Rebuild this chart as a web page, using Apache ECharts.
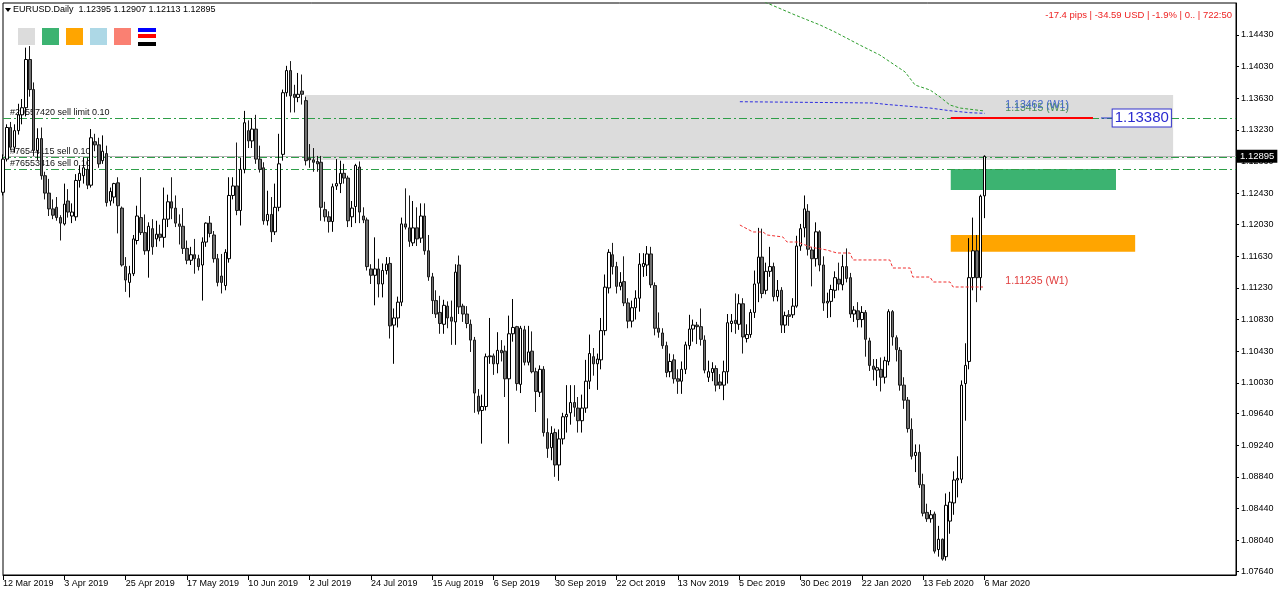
<!DOCTYPE html>
<html><head><meta charset="utf-8">
<script src="https://cdn.jsdelivr.net/npm/echarts@6/dist/echarts.min.js"></script>
<style>html,body{margin:0;padding:0;background:#fff}#c{width:1280px;height:595px}</style>
</head><body><div id="c"></div>
<script>
// ---- tick labels ----
const dateTickLabels = ['12 Mar 2019','3 Apr 2019','25 Apr 2019','17 May 2019','10 Jun 2019','2 Jul 2019','24 Jul 2019','15 Aug 2019','6 Sep 2019','30 Sep 2019','22 Oct 2019','13 Nov 2019','5 Dec 2019','30 Dec 2019','22 Jan 2020','13 Feb 2020','6 Mar 2020'];
const barsPerDateTick = 16;
const priceTickLabels = ['1.14430','1.14030','1.13630','1.13230','1.12830','1.12430','1.12030','1.11630','1.11230','1.10830','1.10430','1.10030','1.09640','1.09240','1.08840','1.08440','1.08040','1.07640'];

// ---- daily candles (bar index 0 = 12 Mar 2019) ----
const opens = [
1.1244,1.1286,1.1326,1.1301,1.1322,1.1342,1.1351,1.1412,1.1374,1.1297,
1.1312,1.1265,1.1243,1.1223,1.1225,1.1212,1.1204,1.1233,1.1214,1.1213,
1.1259,1.1265,1.1273,1.1253,1.1308,1.1304,1.1284,1.1293,1.1233,1.1238,
1.1256,1.1224,1.1150,1.1130,1.1141,1.1183,1.1212,1.1193,1.1170,1.1198,
1.1185,1.1191,1.1187,1.1210,1.1232,1.1224,1.1204,1.1201,1.1173,1.1158,
1.1165,1.1160,1.1152,1.1181,1.1205,1.1190,1.1160,1.1138,1.1126,1.1160,
1.1240,1.1252,1.1221,1.1273,1.1322,1.1309,1.1324,1.1286,1.1275,1.1208,
1.1216,1.1194,1.1225,1.1292,1.1370,1.1398,1.1368,1.1364,1.1372,1.1360,
1.1287,1.1285,1.1283,1.1282,1.1222,1.1213,1.1207,1.1252,1.1255,1.1268,
1.1262,1.1213,1.1226,1.1276,1.1214,1.1209,1.1147,1.1139,1.1147,1.1128,
1.1145,1.1154,1.1076,1.1085,1.1105,1.1204,1.1199,1.1180,1.1199,1.1186,
1.1214,1.1170,1.1137,1.1107,1.1092,1.1077,1.1100,1.1086,1.1080,1.1152,
1.1100,1.1090,1.1077,1.1057,1.0986,1.0968,1.0973,1.1036,1.1037,1.1027,
1.1044,1.1043,1.1008,1.1065,1.1074,1.1001,1.1070,1.1029,1.1043,1.1017,
1.0991,1.1020,1.0940,1.0921,1.0940,1.0899,1.0932,1.0960,1.0965,1.0978,
1.0971,1.0955,1.0971,1.1005,1.1036,1.1027,1.1032,1.1069,1.1123,1.1165,
1.1150,1.1125,1.1131,1.1104,1.1081,1.1098,1.1110,1.1150,1.1152,1.1166,
1.1126,1.1072,1.1066,1.1050,1.1017,1.1032,1.1008,1.1005,1.1020,1.1050,
1.1071,1.1076,1.1074,1.1057,1.1010,1.1016,1.1021,1.1004,1.1000,1.1017,
1.1078,1.1082,1.1077,1.1103,1.1059,1.1064,1.1092,1.1129,1.1162,1.1120,
1.1144,1.1150,1.1112,1.1120,1.1076,1.1089,1.1089,1.1100,1.1176,1.1199,
1.1220,1.1171,1.1160,1.1194,1.1152,1.1104,1.1106,1.1120,1.1134,1.1127,
1.1150,1.1136,1.1090,1.1094,1.1083,1.1092,1.1056,1.1024,1.1019,1.1020,
1.1010,1.1030,1.1093,1.1060,1.1044,1.1000,1.0981,1.0944,1.0911,1.0915,
1.0874,1.0839,1.0831,1.0837,1.0792,1.0805,1.0783,1.0828,1.0851,1.0880,
1.0881,1.1002,1.1030,1.1136,1.1170,1.1136,1.12395];
const highs = [
1.1292,1.1330,1.1333,1.1330,1.1356,1.1362,1.1427,1.1429,1.1383,1.1325,
1.1326,1.1270,1.1261,1.1235,1.1238,1.1215,1.1255,1.1248,1.1230,1.1267,
1.1278,1.1288,1.1288,1.1324,1.1318,1.1313,1.1316,1.1303,1.1250,1.1256,
1.1263,1.1226,1.1162,1.1151,1.1190,1.1227,1.1263,1.1216,1.1206,1.1210,
1.1208,1.1203,1.1250,1.1241,1.1263,1.1240,1.1216,1.1224,1.1183,1.1175,
1.1185,1.1165,1.1187,1.1206,1.1214,1.1195,1.1166,1.1166,1.1172,1.1263,
1.1263,1.1307,1.1288,1.1347,1.1335,1.1338,1.1342,1.1303,1.1282,1.1246,
1.1238,1.1255,1.1318,1.1374,1.1404,1.1410,1.1380,1.1395,1.1393,1.1365,
1.1305,1.1300,1.1290,1.1290,1.1232,1.1220,1.1255,1.1286,1.1284,1.1280,
1.1265,1.1233,1.1280,1.1283,1.1225,1.1212,1.1153,1.1187,1.1160,1.1154,
1.1162,1.1162,1.1097,1.1112,1.1212,1.1249,1.1240,1.1233,1.1225,1.1230,
1.1230,1.1190,1.1142,1.1120,1.1113,1.1108,1.1106,1.1107,1.1153,1.1164,
1.1103,1.1100,1.1083,1.1061,1.0995,1.0988,1.1040,1.1085,1.1040,1.1067,
1.1057,1.1050,1.1088,1.1109,1.1075,1.1075,1.1075,1.1075,1.1068,1.1022,
1.1025,1.1024,1.0958,1.0948,1.0945,1.0944,1.0965,1.1000,1.1000,1.1000,
1.0985,1.0988,1.1032,1.1064,1.1047,1.1040,1.1085,1.1140,1.1172,1.1180,
1.1156,1.1143,1.1163,1.1110,1.1107,1.1120,1.1167,1.1167,1.1176,1.1175,
1.1130,1.1092,1.1072,1.1055,1.1040,1.1039,1.1020,1.1030,1.1055,1.1089,
1.1083,1.1080,1.1097,1.1063,1.1031,1.1029,1.1025,1.1014,1.1031,1.1090,
1.1090,1.1116,1.1115,1.1110,1.1077,1.1096,1.1145,1.1199,1.1198,1.1155,
1.1175,1.1155,1.1133,1.1124,1.1093,1.1095,1.1110,1.1189,1.1204,1.1240,
1.1229,1.1175,1.1206,1.1196,1.1163,1.1117,1.1127,1.1144,1.1155,1.1165,
1.1173,1.1142,1.1100,1.1105,1.1100,1.1095,1.1060,1.1033,1.1033,1.1035,
1.1036,1.1096,1.1095,1.1063,1.1048,1.1010,1.0985,1.0958,1.0925,1.0925,
1.0888,1.0850,1.0842,1.0840,1.0822,1.0806,1.0863,1.0865,1.0891,1.0910,
1.1006,1.1053,1.1186,1.1212,1.1190,1.1241,1.12907];
const lows = [
1.1240,1.1283,1.1297,1.1294,1.1317,1.1330,1.1340,1.1365,1.1290,1.1285,
1.1260,1.1235,1.1214,1.1210,1.1208,1.1183,1.1202,1.1212,1.1205,1.1208,
1.1250,1.1255,1.1248,1.1250,1.1296,1.1275,1.1280,1.1226,1.1227,1.1230,
1.1192,1.1150,1.1118,1.1111,1.1138,1.1178,1.1190,1.1165,1.1136,1.1165,
1.1175,1.1182,1.1174,1.1200,1.1210,1.1200,1.1178,1.1166,1.1153,1.1152,
1.1141,1.1145,1.1107,1.1175,1.1187,1.1155,1.1125,1.1116,1.1120,1.1155,
1.1235,1.1215,1.1202,1.1268,1.1300,1.1300,1.1280,1.1269,1.1203,1.1202,
1.1181,1.1190,1.1220,1.1284,1.1365,1.1345,1.1345,1.1358,1.1355,1.1278,
1.1275,1.1270,1.1270,1.1208,1.1207,1.1193,1.1194,1.1247,1.1243,1.1255,
1.1200,1.1200,1.1205,1.1205,1.1205,1.1145,1.1128,1.1101,1.1111,1.1111,
1.1140,1.1059,1.1027,1.1073,1.1100,1.1197,1.1175,1.1176,1.1176,1.1180,
1.1165,1.1132,1.1090,1.1085,1.1065,1.1065,1.1072,1.1051,1.1051,1.1090,
1.1080,1.1072,1.1042,1.0965,1.0963,1.0926,1.0968,1.1027,1.1013,1.1015,
1.1030,1.0985,1.0926,1.1055,1.0993,1.0990,1.1025,1.1025,1.1015,1.0966,
1.0985,1.0935,1.0908,1.0905,1.0884,1.0879,1.0925,1.0940,1.0950,1.0960,
1.0940,1.0940,1.0965,1.0995,1.1012,1.0994,1.1020,1.1063,1.1116,1.1140,
1.1116,1.1120,1.1100,1.1072,1.1073,1.1083,1.1093,1.1137,1.1138,1.1123,
1.1063,1.1060,1.1046,1.1010,1.1010,1.1002,1.0989,1.0989,1.1014,1.1045,
1.1055,1.1052,1.1050,1.1015,1.1004,1.1005,1.0992,1.0995,1.0981,1.1002,
1.1067,1.1065,1.1070,1.1040,1.1054,1.1060,1.1085,1.1105,1.1110,1.1115,
1.1137,1.1106,1.1106,1.1066,1.1066,1.1075,1.1085,1.1098,1.1170,1.1187,
1.1164,1.1125,1.1150,1.1144,1.1094,1.1085,1.1086,1.1110,1.1120,1.1120,
1.1130,1.1085,1.1080,1.1073,1.1073,1.1036,1.1018,1.1006,1.0999,1.0992,
1.1002,1.1025,1.1050,1.1030,1.0993,1.0970,1.0940,1.0906,1.0890,1.0870,
1.0834,1.0827,1.0826,1.0787,1.0783,1.0778,1.0778,1.0812,1.0836,1.0858,
1.0876,1.0955,1.1020,1.1120,1.1105,1.1120,1.12113];
const closes = [
1.1286,1.1326,1.1301,1.1322,1.1342,1.1351,1.1412,1.1374,1.1297,1.1312,
1.1265,1.1243,1.1223,1.1215,1.1212,1.1205,1.1229,1.1219,1.1219,1.1259,
1.1268,1.1275,1.1253,1.1313,1.1304,1.1280,1.1296,1.1231,1.1245,1.1255,
1.1227,1.1152,1.1133,1.1141,1.1185,1.1214,1.1193,1.1170,1.1201,1.1175,
1.1191,1.1187,1.1210,1.1232,1.1224,1.1205,1.1201,1.1173,1.1158,1.1165,
1.1160,1.1150,1.1181,1.1205,1.1192,1.1160,1.1130,1.1130,1.1168,1.1240,
1.1252,1.1221,1.1273,1.1332,1.1309,1.1324,1.1286,1.1273,1.1208,1.1216,
1.1194,1.1225,1.1280,1.1370,1.1398,1.1366,1.1364,1.1368,1.1368,1.1284,
1.1285,1.1282,1.1280,1.1225,1.1213,1.1207,1.1251,1.1255,1.1268,1.1262,
1.1208,1.1224,1.1278,1.1219,1.1209,1.1150,1.1139,1.1147,1.1128,1.1145,
1.1153,1.1075,1.1085,1.1105,1.1204,1.1200,1.1182,1.1199,1.1185,1.1214,
1.1170,1.1137,1.1107,1.1090,1.1078,1.1101,1.1085,1.1081,1.1143,1.1099,
1.1090,1.1078,1.1057,1.0990,1.0967,1.0973,1.1036,1.1037,1.1027,1.1044,
1.1041,1.1008,1.1065,1.1073,1.1002,1.1072,1.1029,1.1042,1.1017,1.0992,
1.1020,1.0940,1.0920,1.0939,1.0899,1.0932,1.0960,1.0963,1.0978,1.0972,
1.0955,1.0971,1.1005,1.1040,1.1027,1.1033,1.1069,1.1124,1.1168,1.1150,
1.1125,1.1130,1.1104,1.1081,1.1098,1.1110,1.1153,1.1154,1.1166,1.1127,
1.1072,1.1067,1.1050,1.1016,1.1030,1.1008,1.1005,1.1020,1.1051,1.1071,
1.1076,1.1074,1.1058,1.1019,1.1017,1.1021,1.1000,1.1000,1.1017,1.1079,
1.1081,1.1078,1.1103,1.1061,1.1064,1.1092,1.1128,1.1162,1.1116,1.1144,
1.1150,1.1112,1.1120,1.1076,1.1088,1.1087,1.1100,1.1176,1.1198,1.1223,
1.1172,1.1160,1.1194,1.1152,1.1104,1.1106,1.1121,1.1136,1.1128,1.1150,
1.1135,1.1090,1.1095,1.1083,1.1092,1.1058,1.1025,1.1020,1.1022,1.1010,
1.1031,1.1093,1.1061,1.1045,1.1000,1.0981,1.0945,1.0910,1.0915,1.0874,
1.0838,1.0831,1.0836,1.0790,1.0805,1.0780,1.0848,1.0852,1.0880,1.0882,
1.1000,1.1025,1.1136,1.1170,1.1136,1.1239,1.12895];

// ---- weekly level lines ([bar position, price]) ----
const greenW1 = [[198.7,1.14847],[206.6,1.14683],[213.1,1.14557],[217.0,1.14468],[223.5,1.14303],[228.7,1.14177],[235.3,1.13962],[237.9,1.13797],[241.8,1.13734],[244.4,1.13646],[247.0,1.13544],[249.6,1.13506],[256.1,1.13468]];
const blueW1 = [[192.2,1.13586],[226.9,1.13570],[230.6,1.13551],[241.8,1.13506],[247.0,1.13472],[252.2,1.13447],[256.1,1.13439]];
const redW1 = [[192.2,1.12026],[195.6,1.11938],[198.2,1.11938],[199.3,1.11900],[203.4,1.11875],[204.5,1.11811],[207.3,1.11811],[210.5,1.11748],[214.9,1.11710],[217.5,1.11672],[220.9,1.11672],[221.7,1.11584],[231.3,1.11584],[232.1,1.11482],[236.6,1.11482],[237.3,1.11368],[241.8,1.11368],[242.6,1.11305],[247.0,1.11305],[247.8,1.11242],[255.6,1.11242]];
const w1Labels = {green:'1.13415 (W1)', blue:'1.13462 (W1)', red:'1.11235 (W1)'};

// ---- orders / zones ----
const orderLevels = [1.13380, 1.12887, 1.12735];
const orderTexts = ['#20557420 sell limit 0.10', '#76544115 sell 0.10', '#76553416 sell 0.10'];
const bidPrice = 1.12895;
const grayZone = [78.8, 305.2, 1.13671, 1.12849];
const greenZone = [247.2, 290.3, 1.12735, 1.12469];
const orangeZone = [247.2, 295.3, 1.11900, 1.11689];
const redLevel = [247.2, 284.3, 1.13380];
const priceTag = [286.4, 289.3, 1.13380];

const FONT = '"Liberation Sans", Arial, sans-serif';
const candleData = opens.map((o, i) => [i, o, closes[i], lows[i], highs[i]]);
const dateTickPos = dateTickLabels.map((_, k) => k * barsPerDateTick);
const priceTickVals = priceTickLabels.map(Number);

const chart = echarts.init(document.getElementById('c'));
const zoneArea = (z, color) => [{coord: [z[0], z[2]], itemStyle: {color, opacity: 1}}, {coord: [z[1], z[3]]}];
const orderLine = (lvl, txt) => ({
  yAxis: lvl,
  lineStyle: {color: '#2e9e48', type: [8, 3, 2, 3], width: 1},
  label: {show: true, position: 'insideStartTop', distance: [7, 1], formatter: txt, color: '#111', fontSize: 9, fontFamily: FONT}
});
const endLabel = (pt, txt, color) => ({
  symbol: 'circle', symbolSize: 1, itemStyle: {color: 'rgba(0,0,0,0)'}, silent: true,
  label: {show: true, position: 'right', distance: 0, formatter: txt, color, fontSize: 10.5, fontFamily: FONT},
  data: [{coord: pt}]
});

chart.setOption({
  animation: false,
  backgroundColor: '#fff',
  grid: {left: 3, right: 44, top: 3, bottom: 20, show: true, borderColor: '#000', borderWidth: 1, backgroundColor: '#fff'},
  xAxis: {
    type: 'value', min: 0, max: 321.6, position: 'bottom',
    axisLine: {show: true, onZero: false, lineStyle: {color: '#000', width: 1}},
    axisTick: {show: true, customValues: dateTickPos, length: 5, lineStyle: {color: '#000'}},
    axisLabel: {show: true, customValues: dateTickPos, formatter: v => dateTickLabels[Math.round(v / barsPerDateTick)], align: 'left', margin: 4, fontSize: 9, color: '#000', fontFamily: FONT},
    splitLine: {show: false}
  },
  yAxis: {
    type: 'value', position: 'right', min: 1.07598, max: 1.14835,
    axisLine: {show: true, onZero: false, lineStyle: {color: '#000', width: 1}},
    axisTick: {show: true, customValues: priceTickVals, length: 3, lineStyle: {color: '#000'}},
    axisLabel: {show: true, customValues: priceTickVals, formatter: v => v.toFixed(5), margin: 5, fontSize: 9, color: '#000', fontFamily: FONT},
    splitLine: {show: false}
  },
  series: [
    {
      type: 'line', data: [], z: 1, silent: true,
      markArea: {silent: true, data: [zoneArea(grayZone, '#dcdcdc'), zoneArea(greenZone, '#3cb371'), zoneArea(orangeZone, '#ffa500')]},
      markLine: {
        silent: true, symbol: ['none', 'none'], precision: 5,
        data: [
          {yAxis: bidPrice, lineStyle: {color: '#b4b4b4', type: 'solid', width: 1},
           label: {show: true, position: 'end', distance: 1, formatter: bidPrice.toFixed(5), color: '#fff', backgroundColor: '#000', padding: [2, 3, 1, 3], fontSize: 9.5, fontFamily: FONT}},
          ...orderLevels.map((l, i) => orderLine(l, orderTexts[i]))
        ]
      }
    },
    {
      type: 'candlestick', data: candleData, z: 5, barWidth: 3,
      itemStyle: {color: '#ffffff', color0: '#707070', borderColor: '#000', borderColor0: '#1a1a1a', borderWidth: 1}
    },
    {type: 'line', data: greenW1, z: 6, showSymbol: false, silent: true, lineStyle: {color: '#2e9e2e', width: 1, type: [3, 2]}, markPoint: endLabel([261.3, 1.13506], w1Labels.green, '#4a8f5a')},
    {type: 'line', data: blueW1, z: 6, showSymbol: false, silent: true, lineStyle: {color: '#2d2de0', width: 1, type: [3, 2]}, markPoint: endLabel([261.3, 1.13544], w1Labels.blue, '#4466cc')},
    {type: 'line', data: redW1, z: 6, showSymbol: false, silent: true, lineStyle: {color: '#f03030', width: 1, type: [3, 2]}, markPoint: endLabel([261.3, 1.11318], w1Labels.red, '#e03a3a')},
    {type: 'line', data: [[redLevel[0], redLevel[2]], [redLevel[1], redLevel[2]]], z: 6, showSymbol: false, silent: true, lineStyle: {color: '#ff0000', width: 2}},
    {
      type: 'line', data: [[priceTag[0], priceTag[2]], [priceTag[1], priceTag[2]]], z: 7, showSymbol: false, silent: true,
      lineStyle: {color: '#2233cc', width: 1},
      markPoint: {
        symbol: 'circle', symbolSize: 1, itemStyle: {color: 'rgba(0,0,0,0)'}, silent: true,
        label: {show: true, position: 'right', distance: 0, formatter: priceTag[2].toFixed(5), color: '#2a2ad0', backgroundColor: '#fff', borderColor: '#3333cc', borderWidth: 1, padding: [1, 2, 0, 2], fontSize: 15, lineHeight: 16, fontFamily: FONT},
        data: [{coord: [priceTag[1], priceTag[2]]}]
      }
    }
  ],
  graphic: [
    {type: 'polygon', shape: {points: [[5, 8], [11, 8], [8, 12]]}, style: {fill: '#000'}},
    {type: 'text', x: 13, y: 10, style: {text: 'EURUSD.Daily  ' + [opens, highs, lows, closes].map(a => a[a.length - 1].toFixed(5)).join(' '), font: '9px ' + FONT, fill: '#000', verticalAlign: 'middle'}},
    {type: 'text', x: 1232, y: 15, style: {text: '-17.4 pips | -34.59 USD | -1.9% | 0.. | 722:50', font: '9.5px ' + FONT, fill: '#ee2222', align: 'right', verticalAlign: 'middle'}},
    {type: 'rect', shape: {x: 18, y: 28, width: 17, height: 17}, style: {fill: '#dcdcdc'}},
    {type: 'rect', shape: {x: 42, y: 28, width: 17, height: 17}, style: {fill: '#3cb371'}},
    {type: 'rect', shape: {x: 66, y: 28, width: 17, height: 17}, style: {fill: '#ffa500'}},
    {type: 'rect', shape: {x: 90, y: 28, width: 17, height: 17}, style: {fill: '#add8e6'}},
    {type: 'rect', shape: {x: 114, y: 28, width: 17, height: 17}, style: {fill: '#fa8072'}},
    {type: 'rect', shape: {x: 138, y: 28, width: 18, height: 4}, style: {fill: '#0000ff'}},
    {type: 'rect', shape: {x: 138, y: 34, width: 18, height: 4}, style: {fill: '#ff0000'}},
    {type: 'rect', shape: {x: 138, y: 42, width: 18, height: 4}, style: {fill: '#000000'}}
  ]
});
</script>
</body></html>
